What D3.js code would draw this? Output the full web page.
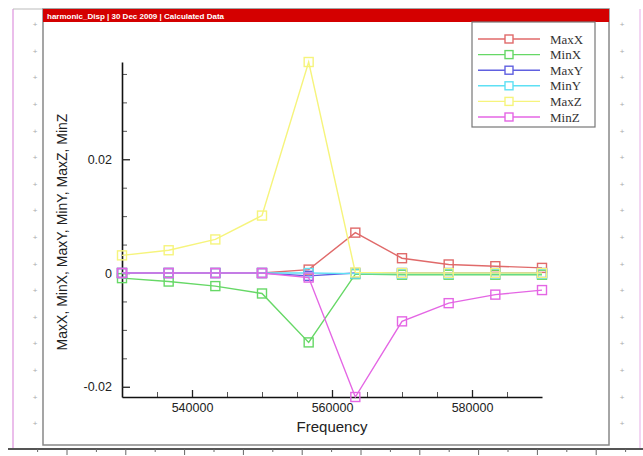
<!DOCTYPE html>
<html>
<head>
<meta charset="utf-8">
<script src="https://cdn.jsdelivr.net/npm/d3@7"></script>
<style>
    body { margin: 0; background: #fff; }
    svg { display: block; }
</style>
</head>
<body>
<svg width="643" height="456"></svg>
<script>
var frequency = [530000, 536667, 543333, 550000, 556667, 563333, 570000, 576667, 583333, 590000];
var maxX = [0, 0, 0, 0, 0.0006, 0.0071, 0.0026, 0.0015, 0.0012, 0.0009];
var minX = [-0.0009, -0.0015, -0.0023, -0.0036, -0.0122, -0.0002, -0.0003, -0.0003, -0.0003, -0.0003];
var maxY = [0, 0, 0, 0, -0.0005, 0, 0, 0, 0, 0];
var minY = [0, 0, 0, 0, 0, -0.0001, -0.0001, -0.0001, -0.0001, -0.0001];
var maxZ = [0.0031, 0.0040, 0.0059, 0.0101, 0.0371, 0.0001, 0, 0, 0, 0];
var minZ = [0, 0, 0, 0, -0.0008, -0.0218, -0.0085, -0.0053, -0.0038, -0.0030];

var seriesNames = ["MaxX", "MinX", "MaxY", "MinY", "MaxZ", "MinZ"];
var seriesValues = [maxX, minX, maxY, minY, maxZ, minZ];
var seriesColors = ["#e06a6a", "#66d866", "#6060e0", "#5ee0f4", "#f6f47c", "#e466e4"];

var xTicks = [540000, 560000, 580000];
var xMinorTicks = [535000, 545000, 550000, 555000, 565000, 570000, 575000, 585000];
var yTicks = [-0.02, 0, 0.02];
var yMinorTicks = [-0.015, -0.01, -0.005, 0.005, 0.01, 0.015, 0.025, 0.03, 0.035];

var svg = d3.select("svg");

// page frame, like the exported plot window
svg.append("line")
    .attr("x1", 13).attr("x2", 13).attr("y1", 9).attr("y2", 449)
    .attr("stroke", "#e4a8e4").attr("stroke-width", 1.5);
svg.append("line")
    .attr("x1", 640).attr("x2", 640).attr("y1", 9).attr("y2", 449)
    .attr("stroke", "#efc8ef").attr("stroke-width", 1.5);
svg.append("line")
    .attr("x1", 13).attr("x2", 43).attr("y1", 9).attr("y2", 9)
    .attr("stroke", "#bbb").attr("stroke-width", 1);

var plusY = d3.range(25, 430, 26.6);
[35, 622].forEach(function (px) {
    svg.append("g").selectAll("text")
        .data(plusY).enter().append("text")
        .attr("x", px).attr("y", function (d) { return d; })
        .attr("text-anchor", "middle")
        .attr("dominant-baseline", "middle")
        .attr("font-family", "Liberation Sans, Arial, sans-serif")
        .attr("font-size", 8)
        .attr("fill", "#aaa")
        .text("+");
});

svg.append("rect")
    .attr("x", 43).attr("y", 9).attr("width", 566).attr("height", 436)
    .attr("fill", "none").attr("stroke", "#888").attr("stroke-width", 1.5);
svg.append("rect")
    .attr("x", 43).attr("y", 9).attr("width", 566).attr("height", 13)
    .attr("fill", "#d40000");
svg.append("text")
    .attr("x", 47).attr("y", 18.5)
    .attr("font-family", "Liberation Sans, Arial, sans-serif")
    .attr("font-size", 8).attr("font-weight", "bold")
    .attr("fill", "#fff")
    .text("harmonic_Disp | 30 Dec 2009 | Calculated Data");

// bottom ruler
svg.append("line")
    .attr("x1", 8).attr("x2", 643).attr("y1", 449).attr("y2", 449)
    .attr("stroke", "#555").attr("stroke-width", 2);
var rulerTicks = d3.range(37.6, 643, 29.4);
svg.append("g").selectAll("line")
    .data(rulerTicks).enter().append("line")
    .attr("x1", function (d) { return d; }).attr("x2", function (d) { return d; })
    .attr("y1", 449).attr("y2", function (d, i) { return i % 2 ? 455 : 452; })
    .attr("stroke", "#666").attr("stroke-width", 1);

// chart
var x = d3.scaleLinear().domain([530000, 590000]).range([122, 542]);
var y = d3.scaleLinear().domain([d3.min(minZ), d3.max(maxZ)]).range([397, 62]);

var fontSans = "Liberation Sans, Arial, sans-serif";

var xMinor = svg.append("g")
    .attr("transform", "translate(0,397)")
    .call(d3.axisBottom(x).tickValues(xMinorTicks).tickSize(-5).tickSizeOuter(0).tickFormat(""));
xMinor.select(".domain").remove();

var xAxis = svg.append("g")
    .attr("transform", "translate(0,397)")
    .call(d3.axisBottom(x).tickValues(xTicks).tickSize(-7).tickSizeOuter(0).tickPadding(6)
        .tickFormat(d3.format("d")));

var yMinor = svg.append("g")
    .attr("transform", "translate(122,0)")
    .call(d3.axisLeft(y).tickValues(yMinorTicks).tickSize(-5).tickSizeOuter(0).tickFormat(""));
yMinor.select(".domain").remove();

var yAxis = svg.append("g")
    .attr("transform", "translate(122,0)")
    .call(d3.axisLeft(y).tickValues(yTicks).tickSize(-8).tickSizeOuter(0).tickPadding(10)
        .tickFormat(function (d) { return d === 0 ? "0" : String(d); }));

[xMinor, yMinor].forEach(function (g) {
    g.selectAll("line").attr("stroke", "#555").attr("stroke-width", 1);
});
[xAxis, yAxis].forEach(function (g) {
    g.selectAll("line").attr("stroke", "#222").attr("stroke-width", 1.3);
    g.select(".domain").attr("stroke", "#111").attr("stroke-width", 1.6);
    g.selectAll("text")
        .attr("font-family", fontSans)
        .attr("font-size", 12.5)
        .attr("fill", "#222");
});

svg.append("text")
    .attr("x", 332).attr("y", 432)
    .attr("text-anchor", "middle")
    .attr("font-family", fontSans).attr("font-size", 15)
    .attr("fill", "#222")
    .text("Frequency");

svg.append("text")
    .attr("transform", "translate(67,232) rotate(-90)")
    .attr("text-anchor", "middle")
    .attr("font-family", fontSans).attr("font-size", 14)
    .attr("fill", "#222")
    .text(seriesNames.join(", "));

var line = d3.line()
    .x(function (d, i) { return x(frequency[i]); })
    .y(function (d) { return y(d); });

seriesValues.forEach(function (values, s) {
    var g = svg.append("g").attr("class", "series");
    g.append("path")
        .datum(values)
        .attr("d", line)
        .attr("fill", "none")
        .attr("stroke", seriesColors[s])
        .attr("stroke-width", 1.4);
    g.selectAll("rect")
        .data(values).enter().append("rect")
        .attr("x", function (d, i) { return x(frequency[i]) - 4.5; })
        .attr("y", function (d) { return y(d) - 4.5; })
        .attr("width", 9).attr("height", 9)
        .attr("fill", "none")
        .attr("stroke", seriesColors[s])
        .attr("stroke-width", 1.4);
});

// legend
var legend = svg.append("g");
legend.append("rect")
    .attr("x", 472).attr("y", 22).attr("width", 123).attr("height", 105)
    .attr("fill", "#fff").attr("stroke", "#777").attr("stroke-width", 1.2);

var entries = legend.selectAll("g.entry")
    .data(seriesNames).enter().append("g")
    .attr("class", "entry")
    .attr("transform", function (d, i) { return "translate(0," + (39 + i * 15.6) + ")"; });
entries.append("line")
    .attr("x1", 478).attr("x2", 540)
    .attr("stroke", function (d, i) { return seriesColors[i]; })
    .attr("stroke-width", 1.4);
entries.append("rect")
    .attr("x", 505).attr("y", -4).attr("width", 8).attr("height", 8)
    .attr("fill", "#fff")
    .attr("stroke", function (d, i) { return seriesColors[i]; })
    .attr("stroke-width", 1.4);
entries.append("text")
    .attr("x", 550).attr("y", 0)
    .attr("dominant-baseline", "central")
    .attr("font-family", "Liberation Serif, Times New Roman, serif")
    .attr("font-size", 13)
    .attr("fill", "#333")
    .text(function (d) { return d; });
</script>
</body>
</html>
